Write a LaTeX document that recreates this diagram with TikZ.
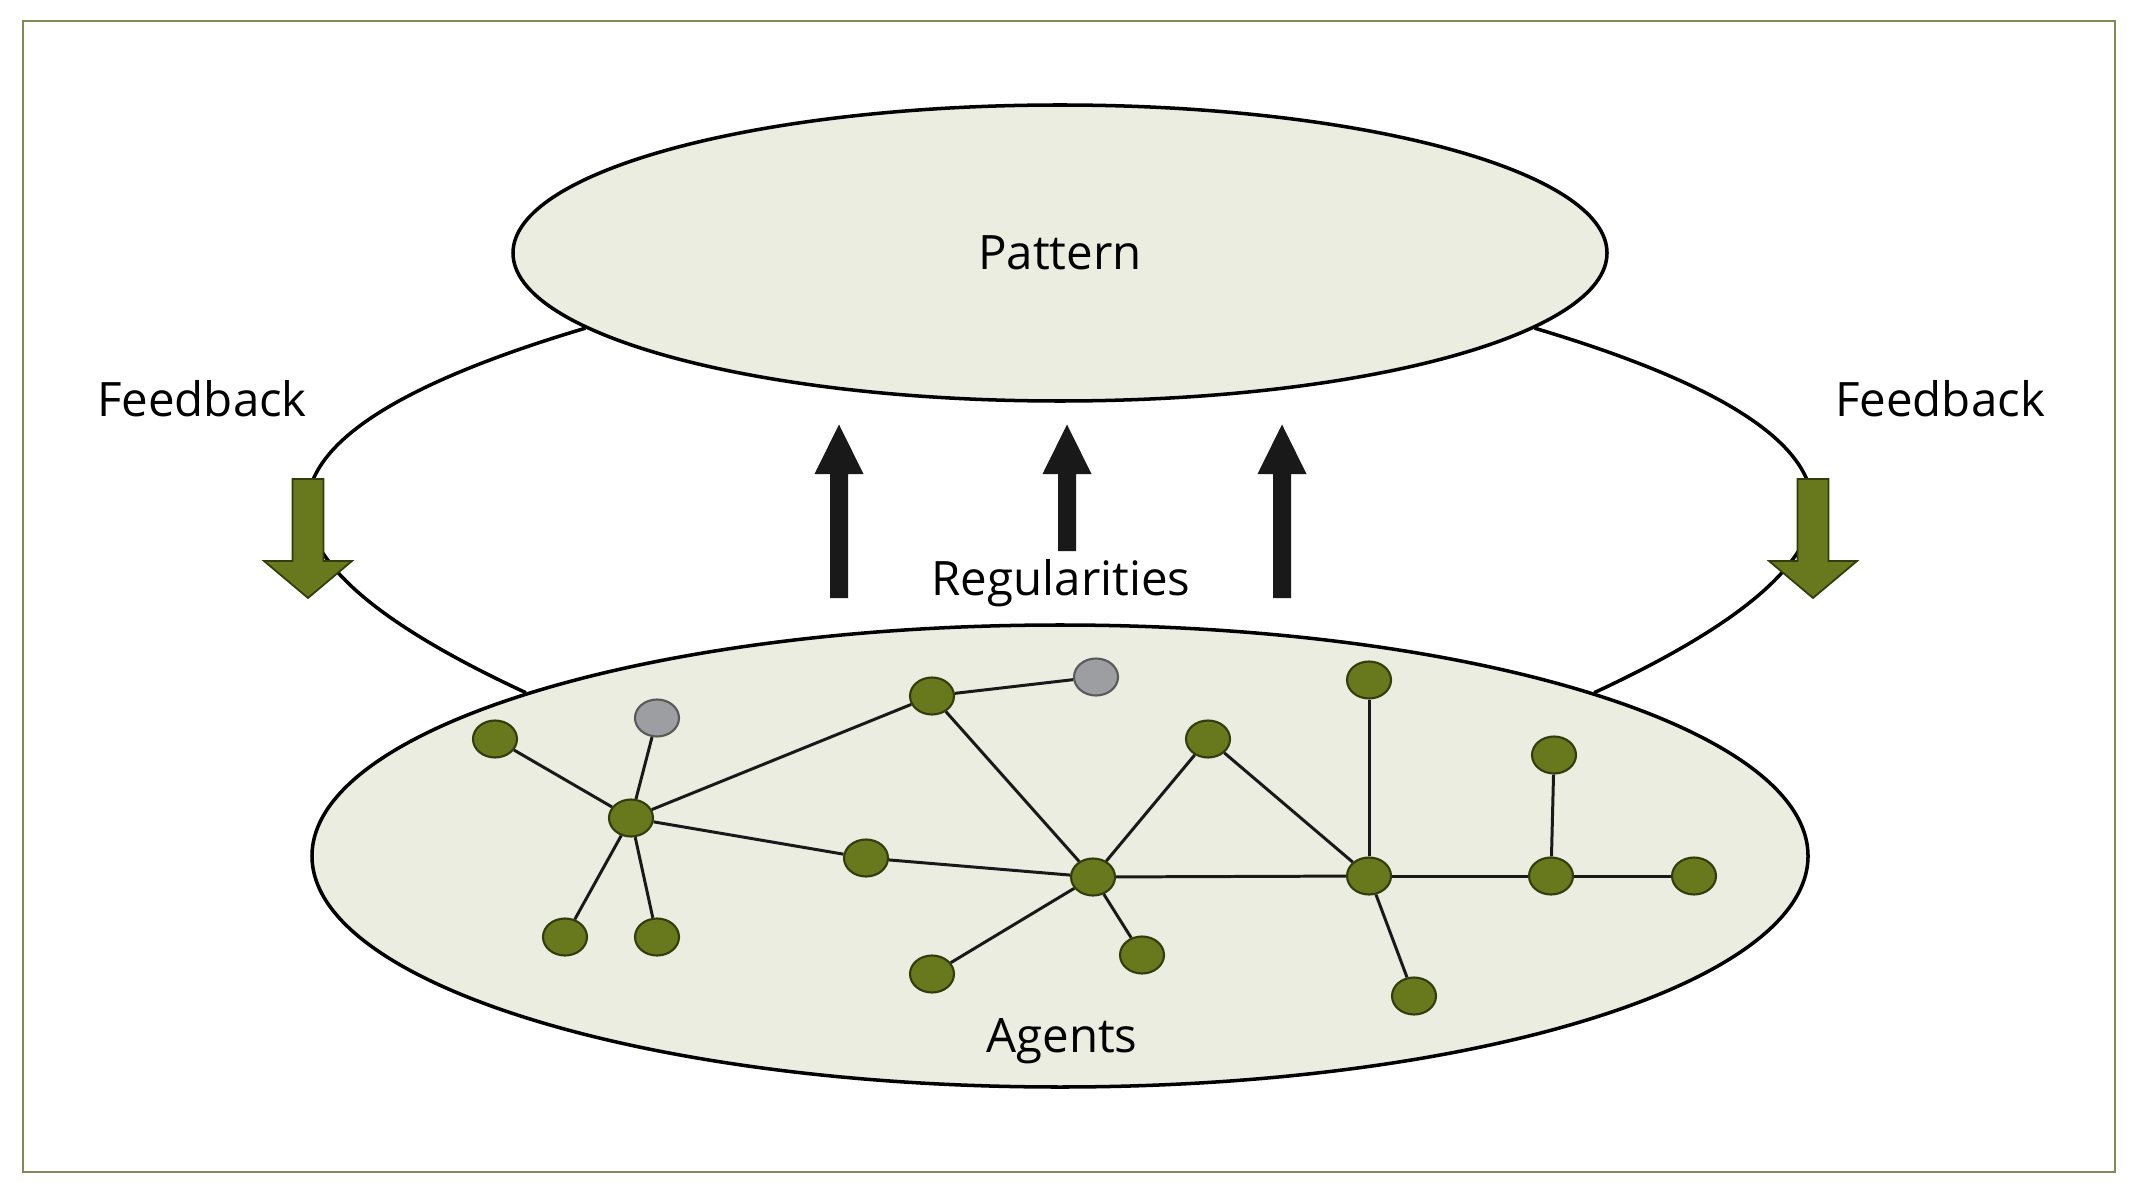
\documentclass[tikz,border=0pt]{standalone}
\usepackage{fontspec}
\setmainfont{Open Sans}
\usepackage{tikz}
\usetikzlibrary{shapes}
\definecolor{agentgreen}{RGB}{104,120,28}
\definecolor{agentedge}{RGB}{50,60,12}
\definecolor{idlegray}{RGB}{156,158,162}
\definecolor{shell}{RGB}{236,237,225}
\definecolor{frameolive}{RGB}{132,138,84}
\tikzstyle{level}=[ellipse, draw=black, line width=1pt, fill=shell, inner sep=0pt, text=black, font=\fontsize{13.5}{16}\selectfont]
\tikzstyle{agent}=[ellipse, draw=agentedge, line width=0.6pt, fill=agentgreen, minimum width=0.44cm, minimum height=0.37cm, inner sep=0pt]
\tikzstyle{idle}=[agent, draw=black!65, fill=idlegray]
\tikzstyle{link}=[draw=black!90, line width=0.85pt]
\tikzstyle{feedloop}=[draw=black, line width=1pt]
\tikzstyle{tag}=[anchor=base, inner sep=0pt, text=black, font=\fontsize{13.5}{16}\selectfont]
\tikzstyle{greenarrow}=[fill=agentgreen, draw=agentedge, line width=0.5pt]
\tikzstyle{blackarrow}=[fill=black!90]
\begin{document}
\begin{tikzpicture}
\useasboundingbox (0,0) rectangle (21.45,12);
\draw[frameolive, line width=0.8pt] (0.23,0.28) rectangle (21.15,11.79);
\node [level, minimum width=10.94cm, minimum height=2.96cm] (pattern) at (10.60,9.47) {Pattern};
\node [level, minimum width=14.96cm, minimum height=4.62cm] (agents) at (10.60,3.44) {};
\draw[feedloop] (pattern.351) .. controls (19.10,7.60) and (18.80,6.40) .. (agents.17);
\draw[feedloop] (pattern.189) .. controls (2.10,7.60) and (2.40,6.40) .. (agents.163);
\node [tag] (agentstext) at (10.62,1.48) {Agents};
\node [tag] (regtext) at (10.61,6.05) {Regularities};
\node [tag] (feedleft) at (2.02,7.83) {Feedback};
\node [tag] (feedright) at (19.40,7.83) {Feedback};
\draw[greenarrow, shift={(3.08,0)}] (-0.155,7.21) -- (0.155,7.21) -- (0.155,6.39) -- (0.44,6.39) -- (0,6.02) -- (-0.44,6.39) -- (-0.155,6.39) -- cycle;
\draw[greenarrow, shift={(18.13,0)}] (-0.155,7.21) -- (0.155,7.21) -- (0.155,6.39) -- (0.44,6.39) -- (0,6.02) -- (-0.44,6.39) -- (-0.155,6.39) -- cycle;
\fill[blackarrow, shift={(8.39,0)}] (-0.09,6.02) -- (-0.09,7.26) -- (-0.245,7.26) -- (0,7.755) -- (0.245,7.26) -- (0.09,7.26) -- (0.09,6.02) -- cycle;
\fill[blackarrow, shift={(10.67,0)}] (-0.09,6.49) -- (-0.09,7.26) -- (-0.245,7.26) -- (0,7.755) -- (0.245,7.26) -- (0.09,7.26) -- (0.09,6.49) -- cycle;
\fill[blackarrow, shift={(12.82,0)}] (-0.09,6.02) -- (-0.09,7.26) -- (-0.245,7.26) -- (0,7.755) -- (0.245,7.26) -- (0.09,7.26) -- (0.09,6.02) -- cycle;
\node [agent] (a1) at (4.95,4.61) {};
\node [idle] (a2) at (6.57,4.82) {};
\node [agent] (a3) at (6.31,3.82) {};
\node [agent] (a4) at (5.65,2.63) {};
\node [agent] (a5) at (6.57,2.63) {};
\node [agent] (a6) at (9.32,5.04) {};
\node [idle] (a7) at (10.96,5.23) {};
\node [agent] (a8) at (8.66,3.42) {};
\node [agent] (a9) at (10.93,3.23) {};
\node [agent] (a10) at (12.08,4.61) {};
\node [agent] (a11) at (9.32,2.26) {};
\node [agent] (a12) at (11.42,2.45) {};
\node [agent] (a13) at (13.69,5.20) {};
\node [agent] (a14) at (13.69,3.24) {};
\node [agent] (a15) at (14.14,2.04) {};
\node [agent] (a16) at (15.54,4.45) {};
\node [agent] (a17) at (15.51,3.24) {};
\node [agent] (a18) at (16.94,3.24) {};
\draw[link] (a1) -- (a3);
\draw[link] (a2) -- (a3);
\draw[link] (a3) -- (a4);
\draw[link] (a3) -- (a5);
\draw[link] (a3) -- (a6);
\draw[link] (a3) -- (a8);
\draw[link] (a8) -- (a9);
\draw[link] (a6) -- (a7);
\draw[link] (a6) -- (a9);
\draw[link] (a9) -- (a10);
\draw[link] (a9) -- (a11);
\draw[link] (a9) -- (a12);
\draw[link] (a10) -- (a14);
\draw[link] (a9) -- (a14);
\draw[link] (a13) -- (a14);
\draw[link] (a14) -- (a15);
\draw[link] (a14) -- (a17);
\draw[link] (a16) -- (a17);
\draw[link] (a17) -- (a18);
\end{tikzpicture}
\end{document}
